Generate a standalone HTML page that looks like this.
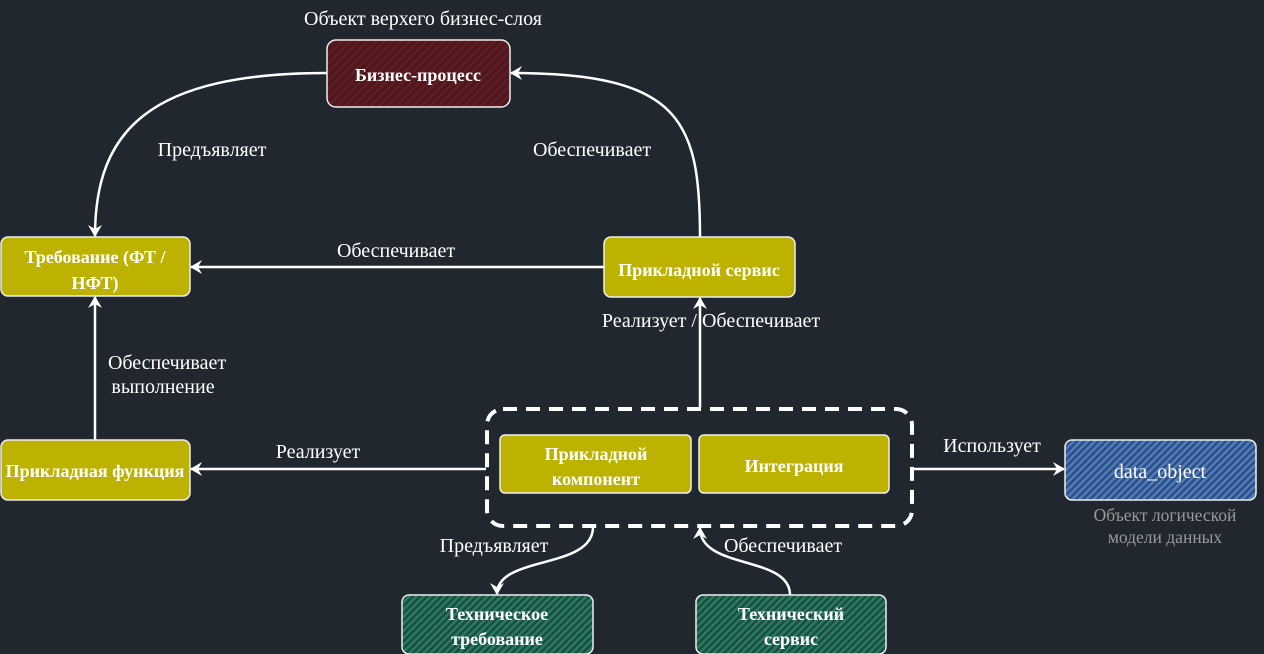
<!DOCTYPE html>
<html><head><meta charset="utf-8"><style>
html,body{margin:0;padding:0;background:#21272f;}
svg{display:block}
text{font-family:"Liberation Serif",serif;fill:#fff;font-weight:bold;font-size:18px}
.l{font-weight:normal;font-size:20px;fill:#fff}
</style></head><body>
<svg width="1264" height="654" viewBox="0 0 1264 654" xmlns="http://www.w3.org/2000/svg">
<defs>
<pattern id="hr" width="6" height="6" patternUnits="userSpaceOnUse" patternTransform="rotate(45)"><rect width="6" height="6" fill="#4a1a1f"/><rect width="2" height="6" fill="#6b1a22"/></pattern>
<pattern id="hb" width="5" height="5" patternUnits="userSpaceOnUse" patternTransform="rotate(45)"><rect width="5" height="5" fill="#2f4f80"/><rect width="2.5" height="5" fill="#4f7cc0"/></pattern>
<pattern id="hg" width="5" height="5" patternUnits="userSpaceOnUse" patternTransform="rotate(45)"><rect width="5" height="5" fill="#1a4d40"/><rect width="2.5" height="5" fill="#2a7a62"/></pattern>
<marker id="a" markerWidth="14" markerHeight="14" refX="11" refY="7" orient="auto" markerUnits="userSpaceOnUse"><path d="M0,0 L12,7 L0,14 L4,7 Z" fill="#fff"/></marker>
</defs>
<g fill="none" stroke="#fff" stroke-width="2.5">
<path d="M327,73 C150,73 95,130 95,236" marker-end="url(#a)"/>
<path d="M700,237 C700,120 680,73 511,73" marker-end="url(#a)"/>
<path d="M604,267 L191,267" marker-end="url(#a)"/>
<path d="M700,408 L700,298" marker-end="url(#a)"/>
<path d="M95,440 L95,297" marker-end="url(#a)"/>
<path d="M486,469 L191,469" marker-end="url(#a)"/>
<path d="M913,469 L1064,469" marker-end="url(#a)"/>
<path d="M593,527 C593,570 497,555 497,594" marker-end="url(#a)"/>
<path d="M790,595 C790,555 700,570 700,528" marker-end="url(#a)"/>
<rect x="487" y="409" width="425" height="117" rx="16" stroke-width="4" stroke-dasharray="14,9"/>
</g>
<g stroke="#eee" stroke-width="1.5">
<rect x="327" y="40" width="183" height="67" rx="9" fill="url(#hr)"/>
<rect x="1" y="237" width="189" height="59" rx="7" fill="#bdb200"/>
<rect x="604" y="237" width="191" height="60" rx="7" fill="#bdb200"/>
<rect x="1" y="440" width="189" height="60" rx="7" fill="#bdb200"/>
<rect x="500" y="435" width="191" height="58" rx="5" fill="#bdb200"/>
<rect x="699" y="435" width="190" height="58" rx="5" fill="#bdb200"/>
<rect x="1065" y="440" width="191" height="60" rx="7" fill="url(#hb)"/>
<rect x="402" y="595" width="191" height="59" rx="7" fill="url(#hg)"/>
<rect x="696" y="595" width="190" height="59" rx="7" fill="url(#hg)"/>
</g>
<g text-anchor="middle">
<text x="418" y="81">Бизнес-процесс</text>
<text x="95" y="263">Требование (ФТ /</text>
<text x="95" y="289">НФТ)</text>
<text x="699" y="276">Прикладной сервис</text>
<text x="95" y="477">Прикладная функция</text>
<text x="596" y="460">Прикладной</text>
<text x="596" y="485">компонент</text>
<text x="794" y="472">Интеграция</text>
<text x="1160" y="478" style="font-weight:normal;font-size:20px">data_object</text>
<text x="497" y="620">Техническое</text>
<text x="497" y="645">требование</text>
<text x="791" y="620">Технический</text>
<text x="791" y="645">сервис</text>
<text class="l" x="423" y="25">Объект верхего бизнес-слоя</text>
<text class="l" x="212" y="156">Предъявляет</text>
<text class="l" x="592" y="156">Обеспечивает</text>
<text class="l" x="396" y="257">Обеспечивает</text>
<text class="l" x="711" y="327">Реализует / Обеспечивает</text>
<text class="l" x="167" y="369">Обеспечивает</text>
<text class="l" x="163" y="393">выполнение</text>
<text class="l" x="318" y="458">Реализует</text>
<text class="l" x="992" y="452">Использует</text>
<text class="l" x="494" y="552">Предъявляет</text>
<text class="l" x="783" y="552">Обеспечивает</text>
<text class="l" x="1165" y="521" style="fill:#9a9a9a;font-size:17.5px">Объект логической</text>
<text class="l" x="1165" y="543" style="fill:#9a9a9a;font-size:17.5px">модели данных</text>
</g>
</svg>
</body></html>
